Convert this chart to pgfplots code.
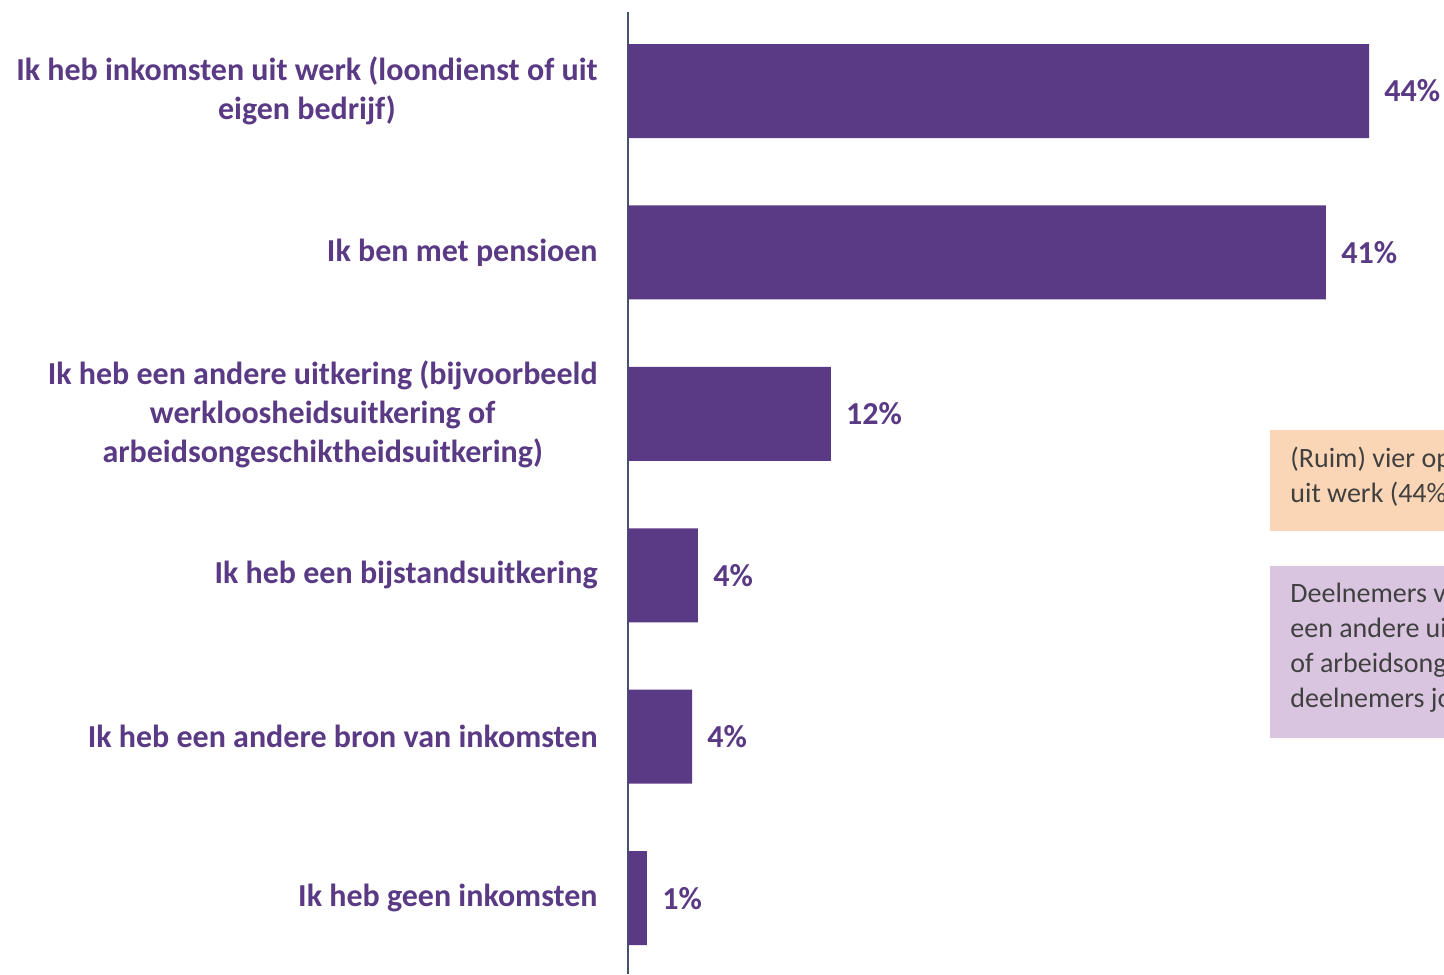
\documentclass[border=0pt]{standalone}
\usepackage{fontspec}
\setmainfont{Carlito}
\usepackage{pgfplots}
\pgfplotsset{compat=1.18}
\definecolor{barpurple}{HTML}{5A3A84}
\definecolor{axisslate}{HTML}{44546A}
\definecolor{boxorange}{HTML}{FBD6B6}
\definecolor{boxlilac}{HTML}{DAC5E0}
\definecolor{boxtext}{HTML}{404040}
\begin{document}
\begin{tikzpicture}
\useasboundingbox (0,0) rectangle (722pt,487pt);
\clip (0,0) rectangle (722pt,487pt);
\begin{axis}[
 at={(314pt,0pt)}, anchor=south west,
 scale only axis, width=405.6pt, height=481pt,
 xbar, bar width=47pt,
 xmin=0, xmax=48, ymin=-0.49, ymax=5.47, y dir=reverse,
 axis x line=none, axis y line=left,
 y axis line style={-, draw=axisslate, line width=1pt},
 ytick={0,1,2,3,4,5}, major tick length=0pt,
 yticklabels={{Ik heb inkomsten uit werk (loondienst of uit\\eigen bedrijf)},
   {Ik ben met pensioen},
   {Ik heb een andere uitkering (bijvoorbeeld\\werkloosheidsuitkering of\\arbeidsongeschiktheidsuitkering)},
   {Ik heb een bijstandsuitkering},
   {Ik heb een andere bron van inkomsten},
   {Ik heb geen inkomsten}},
 yticklabel style={font=\fontsize{16}{19.5}\selectfont\bfseries, text=barpurple, align=center, inner sep=0pt},
 yticklabel shift=15pt,
 /pgf/number format/assume math mode=true,
 point meta=x,
 nodes near coords={\pgfmathprintnumber[fixed,precision=0,assume math mode=true]{\pgfplotspointmeta}\%},
 nodes near coords style={font=\fontsize{16}{19.5}\selectfont\bfseries, text=barpurple, anchor=west, inner sep=0pt, xshift=7.5pt},
 clip=false,
]
\addplot[fill=barpurple, draw=none] coordinates {(43.85,0) (41.3,1) (12.0,2) (4.14,3) (3.79,4) (1.12,5)};
\end{axis}
\fill[boxorange] (635pt,221.5pt) rectangle (730pt,272pt);
\fill[boxlilac] (635pt,118pt) rectangle (730pt,204pt);
\node[anchor=west, align=left, inner sep=0pt, font=\fontsize{14}{17.5}\selectfont, text=boxtext] at (645pt,248.75pt) {(Ruim) vier op de tien deelnemers hebben inkomsten\\uit werk (44\%)};
\node[anchor=west, align=left, inner sep=0pt, font=\fontsize{14}{17.5}\selectfont, text=boxtext] at (645pt,163.25pt) {Deelnemers van 45 jaar en ouder ontvangen vaker\\een andere uitkering (bijvoorbeeld werkloosheidsuitkering\\of arbeidsongeschiktheidsuitkering) dan\\deelnemers jonger dan 45 jaar};
\end{tikzpicture}
\end{document}
